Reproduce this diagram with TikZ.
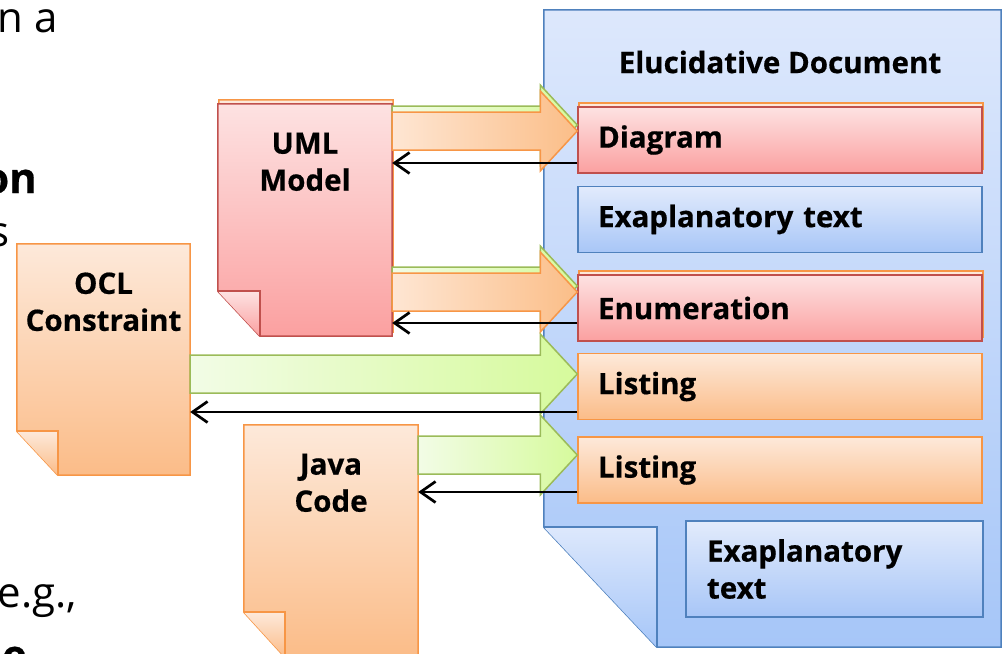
\documentclass[tikz,border=0pt]{standalone}
\usepackage{fontspec}
\setmainfont{Open Sans}[BoldFeatures={FakeBold=0.5}]
\usetikzlibrary{calc,arrows.meta}
\pgfdeclarelayer{back}
\pgfdeclarelayer{mid}
\pgfsetlayers{back,mid,main}
\definecolor{redtop}{HTML}{FDE2E2}
\definecolor{redbot}{HTML}{FBA0A0}
\definecolor{redln}{HTML}{C0504D}
\definecolor{ortop}{HTML}{FDE9DA}
\definecolor{orbot}{HTML}{FBBC88}
\definecolor{orln}{HTML}{F79646}
\definecolor{bltop}{HTML}{E2EBFC}
\definecolor{blbot}{HTML}{A8C6F7}
\definecolor{blln}{HTML}{4F81BD}
\definecolor{bigtop}{HTML}{DDE8FC}
\definecolor{bigbot}{HTML}{A6C6F8}
\definecolor{grleft}{HTML}{F2FCE6}
\definecolor{grright}{HTML}{D6FA9C}
\definecolor{grln}{HTML}{9BBB59}
\definecolor{oaleft}{HTML}{FEE6D3}
\definecolor{oaright}{HTML}{FBBE88}
\newcommand\lblfont{\fontsize{29.5}{37}\selectfont\bfseries}
% document outline with folded bottom-left corner
\newcommand\docshape[4]{%
  \path[#1] (#2.north west) -- (#2.north east) -- (#2.south east)
    -- ($(#2.south west)+(#3,0)$) -- ($(#2.south west)+(0,-#4)$) -- cycle;
  \path[#1,fill=none] ($(#2.south west)+(0,-#4)$) -- ($(#2.south west)+(#3,-#4)$)
    -- ($(#2.south west)+(#3,0)$);}
% block arrow from east side of #2 to west side of #3 at height #4
\newcommand\blockarrow[4]{%
  \coordinate (ba-s) at (#2.east |- 0,#4);
  \coordinate (ba-t) at (#3.west |- 0,#4);
  \path[#1] ($(ba-s)+(0,-19)$) -- ($(ba-t)+(-37,-19)$) -- ($(ba-t)+(-37,-40)$)
    -- (ba-t) -- ($(ba-t)+(-37,40)$) -- ($(ba-t)+(-37,19)$) -- ($(ba-s)+(0,19)$) -- cycle;}
\begin{document}
\begin{tikzpicture}[x=1pt,y=-1pt,
  redfill/.style={draw=redln, top color=redtop, bottom color=redbot, line width=1.5pt},
  orfill/.style={draw=orln, top color=ortop, bottom color=orbot, line width=1.5pt},
  blfill/.style={draw=blln, top color=bltop, bottom color=blbot, line width=1.5pt},
  bigfill/.style={draw=blln, top color=bigtop, bottom color=bigbot, line width=1.5pt},
  greenarrow/.style={draw=grln, left color=grleft, right color=grright, line width=1.5pt},
  orangearrow/.style={draw=orln, left color=oaleft, right color=oaright, line width=1.5pt},
  box/.style={rectangle, inner xsep=20pt, inner ysep=0pt, text width=364pt,
    minimum height=66pt, align=left, font=\lblfont},
  docnode/.style={rectangle, draw=none, inner sep=0pt},
  doclbl/.style={align=center, font=\lblfont, inner sep=0pt},
  ret/.style={draw=black, line width=2.7pt, -{Straight Barb[length=15pt,width=21pt]}},
  frag/.style={font=\fontsize{42}{50}\selectfont, inner sep=0pt, anchor=base east},
  fragb/.style={font=\fontsize{42}{50}\selectfont\bfseries, inner sep=0pt, anchor=base east}]
\useasboundingbox (0,0) rectangle (1003,653);
\clip (0,0) rectangle (1003,653);

% cropped slide text at the left edge
\node[frag] (f1) at (58,32) {n a};
\node[fragb] (f2) at (37,193) {on};
\node[frag] (f3) at (10,246) {s};
\node[frag] (f4) at (77,607) {e.g.,};
\node[fragb] (f5) at (27,670) {e};

% elucidative document
\node[docnode, minimum width=457pt, minimum height=637pt] (elu) at (772.5,328.5) {};
\begin{pgfonlayer}{back}
\docshape{bigfill}{elu}{113}{120}
\end{pgfonlayer}
\node[font=\lblfont, inner sep=0pt] (elutitle) at (780,62) {Elucidative Document};

% parts of the document
\node[box, orfill] (diagramback) at (781,136) {};
\node[box, redfill] (diagram) at (780,140) {Diagram};
\node[box, blfill] (expl1) at (780,219.5) {Exaplanatory text};
\node[box, orfill] (enumback) at (781,304) {};
\node[box, redfill] (enum) at (780,308) {Enumeration};
\node[box, orfill] (list1) at (780,386.5) {Listing};
\node[box, orfill] (list2) at (780,470) {Listing};
\node[box, blfill, text width=255pt, inner xsep=21pt, minimum height=96pt] (expl2) at (834.5,569) {Exaplanatory\\text};

% source documents
\node[docnode, minimum width=174pt, minimum height=232pt] (umlback) at (306,216) {};
\node[docnode, minimum width=174pt, minimum height=232pt] (uml) at (305,220) {};
\node[docnode, minimum width=173pt, minimum height=231pt] (ocl) at (103.5,359.5) {};
\node[docnode, minimum width=174pt, minimum height=232pt] (java) at (331,541) {};
\begin{pgfonlayer}{mid}
\docshape{orfill}{umlback}{42}{45}
\end{pgfonlayer}
\docshape{redfill}{uml}{42}{45}
\docshape{orfill}{ocl}{41}{44}
\docshape{orfill}{java}{41}{45}
\node[doclbl] (umllbl) at ($(uml.north)+(0,58)$) {UML\\Model};
\node[doclbl] (ocllbl) at ($(ocl.north)+(0,58)$) {OCL\\Constraint};
\node[doclbl] (javalbl) at ($(java.north)+(0,58)$) {Java\\Code};

% block arrows
\blockarrow{greenarrow}{uml}{diagram}{125}
\blockarrow{orangearrow}{uml}{diagram}{131}
\blockarrow{greenarrow}{uml}{enum}{286}
\blockarrow{orangearrow}{uml}{enum}{292}
\blockarrow{greenarrow}{ocl}{list1}{374}
\blockarrow{greenarrow}{java}{list2}{455}

% return arrows
\draw[ret] (diagram.west |- 0,163) -- (uml.east |- 0,163);
\draw[ret] (enum.west |- 0,323) -- (uml.east |- 0,323);
\draw[ret] (list1.west |- 0,412) -- (ocl.east |- 0,412);
\draw[ret] (list2.west |- 0,492) -- (java.east |- 0,492);
\end{tikzpicture}
\end{document}
